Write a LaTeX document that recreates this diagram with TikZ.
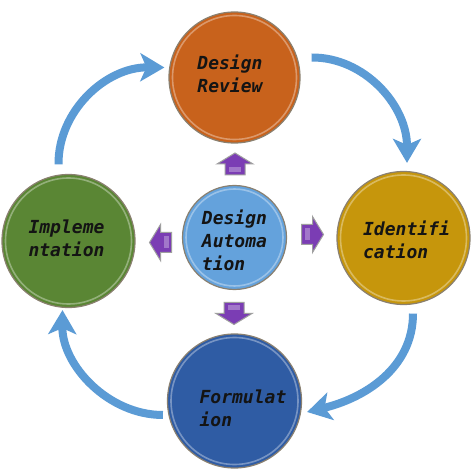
\documentclass[tikz,border=0pt]{standalone}
\usepackage{fontspec}
\usetikzlibrary{arrows.meta}
\newfontfamily\lblfont{DejaVu Sans Mono Bold Oblique}
\definecolor{cOrange}{HTML}{C8621C}
\definecolor{cGreen}{HTML}{5A8634}
\definecolor{cGold}{HTML}{C6960C}
\definecolor{cNavy}{HTML}{2F5CA4}
\definecolor{cSky}{HTML}{64A2DC}
\definecolor{cFlow}{HTML}{5B9BD5}
\definecolor{cPurple}{HTML}{7B3DB4}
\definecolor{cText}{HTML}{141414}
\definecolor{cRim}{HTML}{8A8070}
\begin{document}
\begin{tikzpicture}[x=1pt,y=-1pt,
  stage/.style={circle, minimum size=#1, inner sep=0pt, draw=cRim, line width=1.2pt},
  rim/.style={draw=white, opacity=.35, line width=1.6pt},
  lbl/.style={font=\lblfont\fontsize{18}{23}\selectfont, align=left, text=cText, inner sep=0pt},
  flow/.style={draw=cFlow, line width=8pt, -{Stealth[length=24pt,width=28pt,inset=6pt]}},
  pa/.pic={
    \draw[fill=cPurple, draw=gray!75, line width=1pt, line join=miter]
      (-11,-10) -- (0,-10) -- (0,-18) -- (11,0) -- (0,18) -- (0,10) -- (-11,10) -- cycle;
    \fill[white, opacity=.3] (-8,-6) rectangle (-3,6);
  }]
\fill[white] (0,0) rectangle (474,470);
\useasboundingbox (0,0) rectangle (474,470);

% stages
\node[stage=131pt, fill=cOrange] (rev) at (234.5,77.5) {};
\node[stage=104pt, fill=cSky] (auto) at (234.5,237.5) {};
\node[stage=133pt, fill=cGreen] (imp) at (68.5,241) {};
\node[stage=133pt, fill=cGold] (idf) at (403.5,238) {};
\node[stage=134pt, fill=cNavy] (form) at (234.5,401) {};

\draw[rim] (rev.center) circle (62pt);
\draw[rim] (auto.center) circle (48.5pt);
\draw[rim] (imp.center) circle (63pt);
\draw[rim] (idf.center) circle (63pt);
\draw[rim] (form.center) circle (63.5pt);

% labels
\node[lbl] (revT) at (230,74) {Design\\Review};
\node[lbl] (autoT) at (234.5,240) {Design\\Automa\\tion};
\node[lbl] (impT) at (66.5,238.5) {Impleme\\ntation};
\node[lbl] (idfT) at (406.5,240) {Identifi\\cation};
\node[lbl] (formT) at (243,408) {Formulat\\ion};

% cycle arrows
\draw[flow] ([shift={(-10,-9.5)}]imp.north) .. controls (58,111) and (106,67) .. ([shift={(-4,-10)}]rev.west);
\draw[flow] ([shift={(11,-20)}]rev.east) .. controls (364,57) and (407,105) .. ([shift={(3.5,-8)}]idf.north);
\draw[flow] ([shift={(9.5,8.5)}]idf.south) .. controls (413,368) and (365,398) .. ([shift={(5,11)}]form.east);
\draw[flow] ([shift={(-4,14)}]form.west) .. controls (108,415) and (62,365) .. ([shift={(-6,2)}]imp.south);

% purple block arrows
\pic[rotate=90] (upA) at (235,164) {pa};
\pic[rotate=270] (dnA) at (234,313.5) {pa};
\pic[rotate=180] (lfA) at (160.5,242.5) {pa};
\pic (rtA) at (312.5,234.5) {pa};
\end{tikzpicture}
\end{document}
